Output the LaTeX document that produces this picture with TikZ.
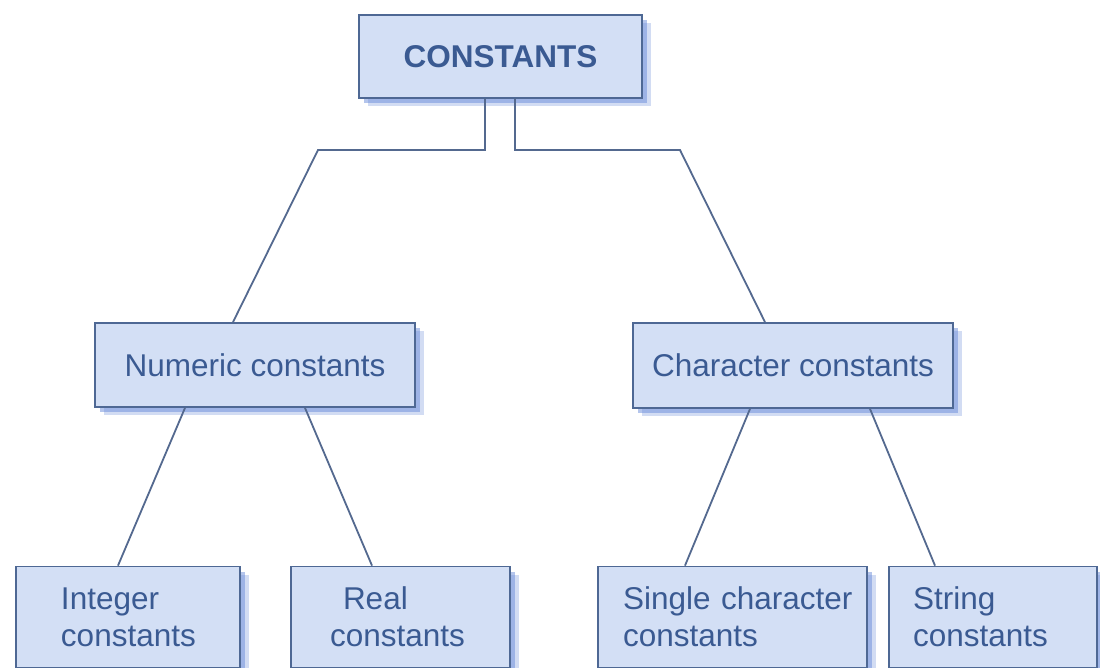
\documentclass[tikz,border=0pt]{standalone}
\usepackage{fontspec}
\setmainfont{Liberation Sans}
\usetikzlibrary{shadows}
\definecolor{boxfill}{HTML}{D3DFF5}
\definecolor{boxline}{HTML}{4E6894}
\definecolor{txt}{HTML}{3A5A92}
\definecolor{conn}{HTML}{54698F}
\definecolor{shad}{HTML}{6A8CDA}
\tikzset{
  cbox/.style={rectangle, draw=boxline, line width=1.8pt, fill=boxfill, text=txt,
    font=\fontsize{31.5}{37}\selectfont,
    drop shadow={shadow xshift=9pt, shadow yshift=-8pt, fill=shad, opacity=0.3},
    drop shadow={shadow xshift=5pt, shadow yshift=-5pt, fill=shad, opacity=0.5}},
  leafbox/.style={cbox, minimum height=101pt, align=left, inner ysep=0pt, inner xsep=0pt},
  conn/.style={draw=conn, line width=1.8pt}
}
\begin{document}
\begin{tikzpicture}[x=1pt,y=-1pt]
\useasboundingbox (0,0) rectangle (1100,667);
\fill[white] (0,0) rectangle (1100,667);
\clip (0,0) rectangle (1100,667);
% top
\node[cbox, minimum width=283pt, minimum height=83pt, font=\fontsize{31.5}{37}\selectfont\bfseries] (top) at (500.5,56.5) {CONSTANTS};
% middle
\node[cbox, minimum width=320pt, minimum height=84pt] (num) at (255,365) {Numeric constants};
\node[cbox, minimum width=320pt, minimum height=85pt] (chr) at (793,365.5) {Character constants};
% bottom
\node[leafbox, text width=224pt] (int) at (128,617) {\hspace*{45pt}Integer\\\hspace*{45pt}constants};
\node[leafbox, text width=219pt] (real) at (400.5,617) {\hspace*{52pt}Real\\\hspace*{39pt}constants};
\node[leafbox, text width=269pt] (sing) at (732.5,617) {\hspace*{25pt}Single character\\\hspace*{25pt}constants};
\node[leafbox, text width=208pt] (str) at (993,617) {\hspace*{24pt}String\\\hspace*{24pt}constants};
% connectors
\draw[conn] (top.south -| 485,0) -- (485,150) -- (318,150) -- (num.north -| 233,0);
\draw[conn] (top.south -| 515,0) -- (515,150) -- (680,150) -- (chr.north -| 765,0);
\draw[conn] (num.south -| 185,0) -- (int.north -| 118,0);
\draw[conn] (num.south -| 305,0) -- (real.north -| 372,0);
\draw[conn] (chr.south -| 750,0) -- (sing.north -| 685,0);
\draw[conn] (chr.south -| 870,0) -- (str.north -| 935,0);
\end{tikzpicture}
\end{document}
